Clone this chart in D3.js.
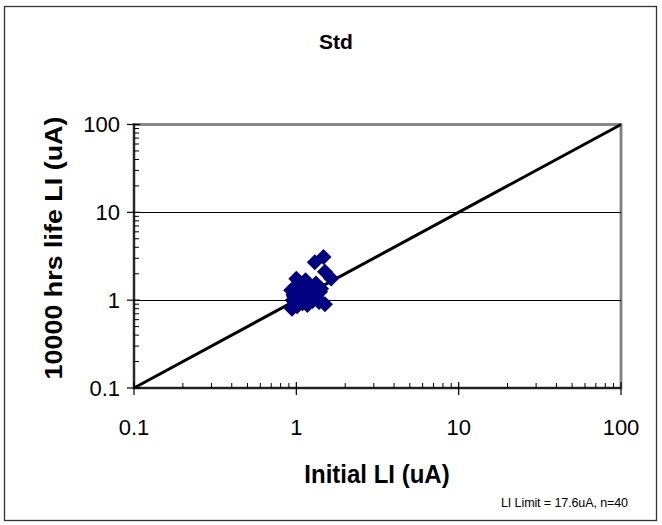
<!DOCTYPE html>
<html>
<head>
<meta charset="utf-8">
<script src="https://cdn.jsdelivr.net/npm/d3@7"></script>
<style>
  body { margin: 0; background: #fff; }
  text { font-family: Arial, "Liberation Sans", sans-serif; }
</style>
</head>
<body>
<div id="chart"></div>
<script>
// Chart texts
const title = "Std";
const xTitle = "Initial LI (uA)";
const yTitle = "10000 hrs life LI (uA)";
const note = "LI Limit = 17.6uA, n=40";

// Tick labels for both log axes
const tickValues = [0.1, 1, 10, 100];
const tickLabels = ["0.1", "1", "10", "100"];

// Initial LI vs 10000 hrs life LI (uA), 40 samples
const initialLI = [1.47, 1.30, 1.64, 1.50, 1.50, 0.94, 0.93, 1.00, 1.14, 1.21,
  0.95, 0.97, 1.02, 1.05, 1.08, 1.10, 0.98, 1.03, 1.12, 1.15,
  1.18, 1.25, 1.28, 1.35, 1.40, 1.00, 0.96, 1.06, 1.09, 1.20,
  1.22, 1.32, 1.38, 1.01, 1.13, 1.04, 0.99, 1.17, 1.26, 1.42];
const lifeLI = [3.1, 2.7, 1.76, 2.1, 0.90, 0.80, 1.30, 1.75, 1.69, 0.97,
  1.0, 1.1, 1.2, 0.95, 1.35, 1.05, 0.90, 1.45, 1.2, 1.0,
  1.3, 1.15, 1.4, 1.05, 1.25, 1.0, 1.15, 1.1, 0.92, 1.5,
  1.1, 1.55, 0.95, 0.85, 1.4, 1.6, 1.25, 0.88, 0.98, 1.35];

// reference line y = x
const refLine = [0.1, 100];

const W = 662, H = 525;
const plot = { left: 134, right: 621, top: 124.5, bottom: 388 };

const svg = d3.select("#chart")
  .append("svg")
  .attr("width", W)
  .attr("height", H);

// outer chart frame
svg.append("rect")
  .attr("x", 4.5).attr("y", 6.5)
  .attr("width", 652).attr("height", 514)
  .attr("fill", "#fff")
  .attr("stroke", "#333")
  .attr("stroke-width", 1.3);

const x = d3.scaleLog().domain([0.1, 100]).range([plot.left, plot.right]);
const y = d3.scaleLog().domain([0.1, 100]).range([plot.bottom, plot.top]);

// minor ticks 2..9 in every decade
const minor = [];
[0.1, 1, 10].forEach((d) => {
  for (let k = 2; k <= 9; k++) minor.push(d * k);
});

// plot area border (gray)
svg.append("rect")
  .attr("x", plot.left).attr("y", plot.top)
  .attr("width", plot.right - plot.left)
  .attr("height", plot.bottom - plot.top)
  .attr("fill", "none")
  .attr("stroke", "#808080")
  .attr("stroke-width", 2.8);

// horizontal grid lines at 1 and 10
svg.append("g")
  .selectAll("line")
  .data([1, 10])
  .join("line")
  .attr("x1", plot.left).attr("x2", plot.right)
  .attr("y1", (d) => Math.round(y(d)) + 0.5)
  .attr("y2", (d) => Math.round(y(d)) + 0.5)
  .attr("stroke", "#000")
  .attr("stroke-width", 1);

// axis lines
svg.append("line")
  .attr("x1", plot.left).attr("x2", plot.left)
  .attr("y1", plot.top - 1).attr("y2", plot.bottom + 1)
  .attr("stroke", "#000").attr("stroke-width", 1.4);
svg.append("line")
  .attr("x1", plot.left).attr("x2", plot.right)
  .attr("y1", plot.bottom).attr("y2", plot.bottom)
  .attr("stroke", "#000").attr("stroke-width", 1.4);

// y axis ticks
svg.append("g").selectAll("line")
  .data(minor)
  .join("line")
  .attr("x1", plot.left).attr("x2", plot.left + 5)
  .attr("y1", (d) => y(d)).attr("y2", (d) => y(d))
  .attr("stroke", "#000").attr("stroke-width", 1);
svg.append("g").selectAll("line")
  .data(tickValues)
  .join("line")
  .attr("x1", plot.left - 7).attr("x2", plot.left + 6)
  .attr("y1", (d) => y(d)).attr("y2", (d) => y(d))
  .attr("stroke", "#000").attr("stroke-width", 1.2);

// x axis ticks
svg.append("g").selectAll("line")
  .data(minor)
  .join("line")
  .attr("x1", (d) => x(d)).attr("x2", (d) => x(d))
  .attr("y1", plot.bottom).attr("y2", plot.bottom - 5)
  .attr("stroke", "#000").attr("stroke-width", 1);
svg.append("g").selectAll("line")
  .data(tickValues)
  .join("line")
  .attr("x1", (d) => x(d)).attr("x2", (d) => x(d))
  .attr("y1", plot.bottom - 6).attr("y2", plot.bottom + 7)
  .attr("stroke", "#000").attr("stroke-width", 1.2);

// tick labels
svg.append("g").selectAll("text")
  .data(tickValues)
  .join("text")
  .attr("x", plot.left - 14)
  .attr("y", (d) => y(d))
  .attr("dy", "0.36em")
  .attr("text-anchor", "end")
  .attr("font-size", 22)
  .text((d, i) => tickLabels[i]);

svg.append("g").selectAll("text")
  .data(tickValues)
  .join("text")
  .attr("x", (d) => x(d))
  .attr("y", 435)
  .attr("text-anchor", "middle")
  .attr("font-size", 22)
  .text((d, i) => tickLabels[i]);

// y = x reference line
svg.append("line")
  .attr("x1", x(refLine[0])).attr("y1", y(refLine[0]))
  .attr("x2", x(refLine[1])).attr("y2", y(refLine[1]))
  .attr("stroke", "#000")
  .attr("stroke-width", 3);

// data points: navy diamonds
const diamond = d3.symbol().type(d3.symbolSquare).size(128);
svg.append("g")
  .selectAll("path")
  .data(initialLI.map((v, i) => ({ init: v, life: lifeLI[i] })))
  .join("path")
  .attr("d", diamond)
  .attr("transform", (d) => `translate(${x(d.init)},${y(d.life)}) rotate(45)`)
  .attr("fill", "#000080");

// titles
svg.append("text")
  .attr("x", 336).attr("y", 49)
  .attr("text-anchor", "middle")
  .attr("font-size", 21)
  .attr("font-weight", "bold")
  .text(title);

svg.append("text")
  .attr("transform", "translate(377,483) scale(1,1.1)")
  .attr("text-anchor", "middle")
  .attr("font-size", 24)
  .attr("font-weight", "bold")
  .text(xTitle);

svg.append("text")
  .attr("transform", "translate(62,248) scale(1,1.12) rotate(-90)")
  .attr("text-anchor", "middle")
  .attr("font-size", 24)
  .attr("font-weight", "bold")
  .text(yTitle);

svg.append("text")
  .attr("x", 501).attr("y", 507)
  .attr("font-size", 12.5)
  .attr("letter-spacing", -0.1)
  .text(note);
</script>
</body>
</html>
